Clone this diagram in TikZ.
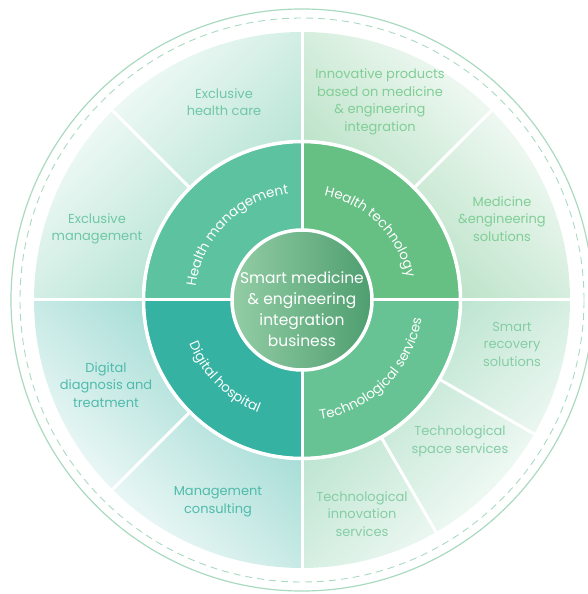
\documentclass[tikz,border=0pt]{standalone}
\usepackage{fontspec}
\setmainfont{Poppins}
\usepackage{xcolor}
\usetikzlibrary{decorations.text}

\definecolor{hmgreen}{HTML}{5DC2A0}
\definecolor{htgreen}{HTML}{66BF83}
\definecolor{dhgreen}{HTML}{35B2A2}
\definecolor{tsgreen}{HTML}{68C394}
\definecolor{coreleft}{HTML}{93CDA5}
\definecolor{coreright}{HTML}{4E9E70}
\definecolor{rimgreen}{HTML}{A9DAC0}
\definecolor{hmtext}{HTML}{6FC7A7}
\definecolor{httext}{HTML}{80CE96}
\definecolor{dhtext}{HTML}{4FBBAB}
\definecolor{tstext}{HTML}{86CDA6}

\begin{document}
\begin{tikzpicture}[x=1pt,y=1pt,
  rotulo/.style={align=center,font=\fontsize{13}{17.5}\selectfont},
  corte/.style={white,line width=3pt},
  arco/.style={decorate,decoration={text along path,text align=center,
    text={|\fontsize{13.5}{15}\selectfont\color{white}|#1}}}]
  \useasboundingbox (-302,-294) rectangle (286,300);
  % outer rings
  \draw[rimgreen,line width=1.2pt] (0,0) circle (291);
  \draw[rimgreen,line width=0.9pt,dash pattern=on 7pt off 5pt] (0,0) circle (282);
  % outer sectors
  \shade[top color=white,bottom color=hmgreen!55,shading angle=45] (90:160) -- (90:268) arc (90:180:268) -- (180:160) arc (180:90:160) -- cycle;
  \shade[top color=white,bottom color=htgreen!55,shading angle=-45] (0:160) -- (0:268) arc (0:90:268) -- (90:160) arc (90:0:160) -- cycle;
  \shade[top color=white,bottom color=dhgreen!55,shading angle=135] (180:160) -- (180:268) arc (180:270:268) -- (270:160) arc (270:180:160) -- cycle;
  \shade[top color=white,bottom color=tsgreen!55,shading angle=225] (270:160) -- (270:268) arc (270:360:268) -- (360:160) arc (360:270:160) -- cycle;
  % middle ring
  \fill[hmgreen] (0,0) -- (90:157) arc (90:180:157) -- cycle;
  \fill[htgreen] (0,0) -- (0:157) arc (0:90:157) -- cycle;
  \fill[dhgreen] (0,0) -- (180:157) arc (180:270:157) -- cycle;
  \fill[tsgreen] (0,0) -- (270:157) arc (270:360:157) -- cycle;
  % white dividers
  \draw[corte] (0,-268) -- (0,268);
  \draw[corte] (-268,0) -- (268,0);
  \draw[corte] (45:158) -- (45:268);
  \draw[corte] (135:158) -- (135:268);
  \draw[corte] (225:158) -- (225:268);
  \draw[corte] (-30:158) -- (-30:268);
  \draw[corte] (-60:158) -- (-60:268);
  \draw[white,line width=3.5pt] (0,0) circle (158.5);
  % core
  \shade[left color=coreleft,right color=coreright] (0,0) circle (70);
  \draw[white,line width=3.5pt] (0,0) circle (70);
  \node[align=center,text=white,font=\fontsize{15.5}{21}\selectfont] (core) at (0,-9)
    {Smart medicine\\\& engineering\\integration\\business};
  % curved labels
  \path[arco={Health management}] (180:107) arc (180:90:107);
  \path[arco={Health technology}] (90:107) arc (90:0:107);
  \path[arco={Digital hospital}] (180:121) arc (180:270:121);
  \path[arco={Technological services}] (270:121) arc (270:360:121);
  % outer labels
  \node[rotulo,text=hmtext] (care) at (-78,198) {Exclusive\\health care};
  \node[rotulo,text=hmtext] (mgmt) at (-205,71) {Exclusive\\management};
  \node[rotulo,text=httext] (prod) at (78,198) {Innovative products\\based on medicine\\\& engineering\\integration};
  \node[rotulo,text=httext] (sol) at (200,81) {Medicine\\\&engineering\\solutions};
  \node[rotulo,text=tstext] (recov) at (210,-44) {Smart\\recovery\\solutions};
  \node[rotulo,text=tstext] (space) at (158,-141) {Technological\\space services};
  \node[rotulo,text=tstext] (innov) at (60,-214) {Technological\\innovation\\services};
  \node[rotulo,text=dhtext] (cons) at (-84,-202) {Management\\consulting};
  \node[rotulo,text=dhtext] (diag) at (-196,-85) {Digital\\diagnosis and\\treatment};
\end{tikzpicture}
\end{document}
